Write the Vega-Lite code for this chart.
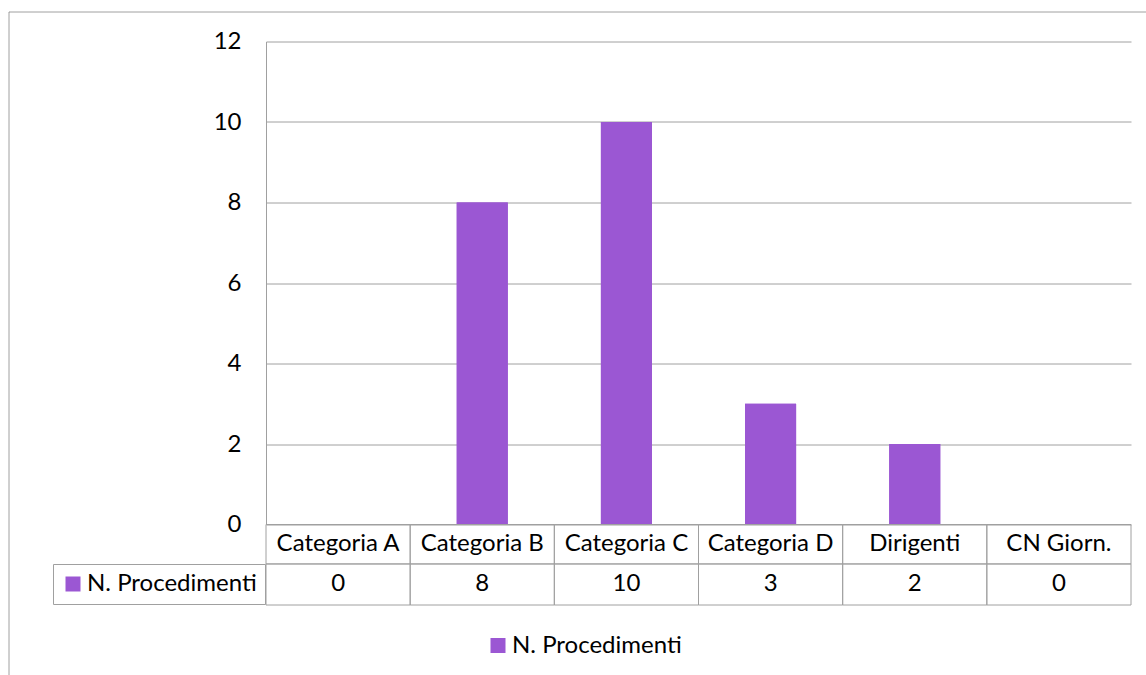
{
  "$schema": "https://vega.github.io/schema/vega-lite/v6.json",
  "autosize": "none",
  "width": 1137,
  "height": 663,
  "padding": {"left": 8.5, "top": 11.5, "right": 0, "bottom": 0},
  "background": "white",
  "config": {
    "font": "Lato",
    "view": {"stroke": "#A0A0A0", "strokeWidth": 1, "strokeDash": [1137, 1800, 663]},
    "text": {"font": "Lato", "fontSize": 24, "color": "#000000"},
    "legend": {"labelFont": "Lato", "labelFontSize": 24, "labelColor": "#000000", "labelLimit": 400, "symbolType": "square", "symbolSize": 225, "symbolStrokeWidth": 0, "labelOffset": 2, "title": null}
  },
  "data": {
    "values": [
      {"cat": "Categoria A", "n": 0, "serie": "N. Procedimenti"},
      {"cat": "Categoria B", "n": 8, "serie": "N. Procedimenti"},
      {"cat": "Categoria C", "n": 10, "serie": "N. Procedimenti"},
      {"cat": "Categoria D", "n": 3, "serie": "N. Procedimenti"},
      {"cat": "Dirigenti", "n": 2, "serie": "N. Procedimenti"},
      {"cat": "CN Giorn.", "n": 0, "serie": "N. Procedimenti"}
    ]
  },
  "encoding": {
    "x": {
      "field": "cat",
      "type": "nominal",
      "sort": null,
      "scale": {"type": "band", "domain": ["Categoria A", "Categoria B", "Categoria C", "Categoria D", "Dirigenti", "CN Giorn."], "range": [257.5, 1122.5], "paddingInner": 0, "paddingOuter": 0},
      "axis": null
    }
  },
  "layer": [
    {
      "mark": {"type": "bar", "width": {"band": 0.354}},
      "encoding": {
        "y": {
          "field": "n",
          "type": "quantitative",
          "scale": {"domain": [0, 12], "range": [513, 30], "nice": false, "zero": false},
          "axis": {
            "title": null,
            "values": [0, 2, 4, 6, 8, 10, 12],
            "format": "d",
            "offset": -257.5,
            "ticks": false,
            "labelPadding": 25,
            "labelFont": "Lato",
            "labelFontSize": 24,
            "labelColor": "#000000",
            "grid": true,
            "gridColor": "#A0A0A0",
            "gridWidth": 1,
            "domainColor": "#A0A0A0",
            "domainWidth": 1
          }
        },
        "fill": {
          "field": "serie",
          "type": "nominal",
          "scale": {"domain": ["N. Procedimenti"], "range": ["#9B57D3"]},
          "legend": {"orient": "none", "legendX": 44.5, "legendY": 552.5, "padding": 8, "strokeColor": "#A0A0A0", "fillColor": "white"}
        }
      }
    },
    {
      "mark": {"type": "bar", "width": {"band": 0.354}},
      "encoding": {
        "y": {"field": "n", "type": "quantitative"},
        "color": {
          "field": "serie",
          "type": "nominal",
          "scale": {"range": ["#9B57D3"]},
          "legend": {"orient": "none", "legendX": 477.5, "legendY": 622, "padding": 0}
        }
      }
    },
    {
      "mark": {"type": "rect", "fill": null, "stroke": "#A0A0A0", "strokeWidth": 1},
      "encoding": {
        "y": {"datum": 0},
        "y2": {"datum": -0.98}
      }
    },
    {
      "mark": {"type": "rect", "fill": null, "stroke": "#A0A0A0", "strokeWidth": 1},
      "encoding": {
        "y": {"datum": -0.98},
        "y2": {"datum": -2.0}
      }
    },
    {
      "mark": {"type": "text", "baseline": "middle", "align": "center"},
      "encoding": {
        "y": {"datum": -0.49},
        "text": {"field": "cat"}
      }
    },
    {
      "mark": {"type": "text", "baseline": "middle", "align": "center"},
      "encoding": {
        "y": {"datum": -1.49},
        "text": {"field": "n", "type": "quantitative"}
      }
    }
  ]
}
